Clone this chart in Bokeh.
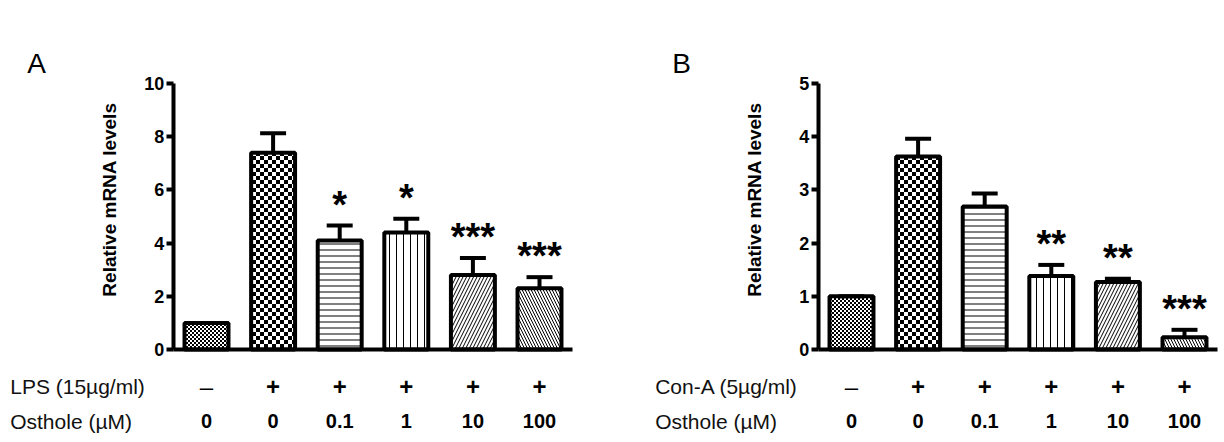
import math

from bokeh.plotting import figure
from bokeh.models import (Range1d, LinearAxis, FixedTicker, CanvasTexture,
                          ColumnDataSource)
from bokeh.layouts import row
from bokeh.core.properties import value
from bokeh.embed import file_html
from bokeh.resources import INLINE

# ---- data -------------------------------------------------------------
osthole_doses = ["0", "0", "0.1", "1", "10", "100"]
stim_flags = ["\u2013", "+", "+", "+", "+", "+"]

lps_mean = [1.0, 7.4, 4.1, 4.4, 2.8, 2.3]
lps_sem = [0.0, 0.73, 0.56, 0.52, 0.64, 0.42]
lps_marks = ["", "", "*", "*", "***", "***"]

cona_mean = [1.0, 3.63, 2.69, 1.38, 1.27, 0.23]
cona_sem = [0.0, 0.33, 0.24, 0.21, 0.06, 0.14]
cona_marks = ["", "", "", "**", "**", "***"]

lps_ticks = [0, 2, 4, 6, 8, 10]
cona_ticks = [0, 1, 2, 3, 4, 5]

# ---- styling ----------------------------------------------------------
FONT = "Liberation Sans"
BAR_PATTERNS = ["fine_checker", "checker", "horizontal_line", "vertical_line",
                "right_diagonal_line", "left_diagonal_line"]
BAR_HATCH_SCALE = [4, 8, 6, 7, 7, 6]
FLAG_STYLE = ["normal" if f == "\u2013" else "bold" for f in stim_flags]


def checker_js(cell):
    # tile of 2x2 cells, two of them black
    return f"""
const c = {cell};
ctx.canvas.width = 2 * c;
ctx.canvas.height = 2 * c;
ctx.fillStyle = "#000000";
ctx.fillRect(0, 0, c, c);
ctx.fillRect(c, c, c, c);
"""


HATCH_EXTRA = {
    "fine_checker": CanvasTexture(code=checker_js(2), repetition="repeat"),
    "checker": CanvasTexture(code=checker_js(4), repetition="repeat"),
}

W, H = 612, 442
STEP = 66.6          # pixels between neighbouring bars
ZERO_PY = 349        # pixel row of y = 0
TOP_PY = 83          # pixel row of the top tick
AXIS_X = -0.5        # y axis sits half a bar step left of the first bar


def make_panel(letter, stim_label, means, sems, marks, ticks, first_px):
    ymax = ticks[-1]
    sy = (ZERO_PY - TOP_PY) / ymax
    p = figure(width=W, height=H, output_backend="svg", toolbar_location=None,
               x_axis_type=None, y_axis_type=None, min_border=0,
               outline_line_color=None, background_fill_color="white",
               x_range=Range1d(-first_px / STEP, (W - first_px) / STEP),
               y_range=Range1d(-(H - ZERO_PY) / sy, ZERO_PY / sy))
    p.xgrid.visible = False
    p.ygrid.visible = False

    n = len(means)
    xs = list(range(n))
    tops = [m + s for m, s in zip(means, sems)]
    src = ColumnDataSource(dict(
        x=xs, mean=means, top=tops, marks=marks,
        left=[x - 0.195 for x in xs], right=[x + 0.195 for x in xs],
        pattern=BAR_PATTERNS, scale=BAR_HATCH_SCALE,
        dose=osthole_doses, flag=stim_flags, flag_style=FLAG_STYLE,
    ))

    # bars with hatch fills
    p.vbar(x="x", top="mean", bottom=0, width=0.66, source=src,
           fill_color="white", line_color="black", line_width=4,
           hatch_pattern="pattern", hatch_scale="scale", hatch_weight=1,
           hatch_color="black", hatch_extra=HATCH_EXTRA)

    # upper error bars (stem + cap)
    p.segment(x0="x", y0="mean", x1="x", y1="top", source=src,
              line_color="black", line_width=4)
    p.segment(x0="left", y0="top", x1="right", y1="top", source=src,
              line_color="black", line_width=4)

    # significance marks
    p.text(x="x", y="top", text="marks", source=src, y_offset=-21,
           text_align="center", text_baseline="middle",
           text_font=value(FONT), text_font_style="bold",
           text_font_size="38px", text_color="black")

    # y axis
    yax = LinearAxis(fixed_location=AXIS_X, bounds=(0, ymax),
                     ticker=FixedTicker(ticks=ticks, minor_ticks=[]))
    yax.axis_line_width = 4
    yax.axis_line_color = "black"
    yax.major_tick_line_width = 4
    yax.major_tick_line_color = "black"
    yax.major_tick_out = 7
    yax.major_tick_in = 0
    yax.minor_tick_out = 0
    yax.minor_tick_in = 0
    yax.major_label_standoff = 2
    yax.major_label_text_font = FONT
    yax.major_label_text_font_style = "bold"
    yax.major_label_text_font_size = "18px"
    yax.major_label_text_color = "black"
    p.add_layout(yax, "left")

    p.text(x=[AXIS_X], y=[ymax / 2], text=["Relative mRNA levels"],
           angle=math.pi / 2, x_offset=-64, y_offset=-17,
           text_align="center", text_baseline="middle",
           text_font=value(FONT), text_font_style="bold",
           text_font_size="19px", text_color="black")

    # baseline (x axis line only)
    xax = LinearAxis(fixed_location=0, bounds=(AXIS_X, n - 0.5),
                     ticker=FixedTicker(ticks=[], minor_ticks=[]))
    xax.axis_line_width = 4
    xax.axis_line_color = "black"
    xax.major_tick_out = 0
    xax.major_tick_in = 0
    xax.minor_tick_out = 0
    xax.minor_tick_in = 0
    xax.major_label_text_font_size = "0px"
    p.add_layout(xax, "below")

    # treatment table under the bars
    p.text(x="x", y=0, text="flag", source=src, y_offset=37,
           text_align="center", text_baseline="middle",
           text_font=value(FONT), text_font_style="flag_style",
           text_font_size="24px", text_color="black")
    p.text(x="x", y=0, text="dose", source=src, y_offset=71,
           text_align="center", text_baseline="middle",
           text_font=value(FONT), text_font_style="bold",
           text_font_size="20px", text_color="black")
    p.text(x=[AXIS_X, AXIS_X], y=[0, 0], text=[stim_label, "Osthole (\u00b5M)"],
           x_offset=-163, y_offset=[37, 72], text_align="left",
           text_baseline="middle", text_font=value(FONT),
           text_font_size="21px", text_color="#111111")

    # panel letter
    p.text(x=[AXIS_X], y=[ymax], text=[letter], x_offset=-146, y_offset=-20,
           text_align="left", text_baseline="middle",
           text_font=value(FONT), text_font_size="28px", text_color="black")
    return p


pa = make_panel("A", "LPS (15\u00b5g/ml)", lps_mean, lps_sem, lps_marks,
                lps_ticks, 206)
pb = make_panel("B", "Con-A (5\u00b5g/ml)", cona_mean, cona_sem, cona_marks,
                cona_ticks, 239)

layout = row(pa, pb, spacing=0)
open("out.html", "w").write(file_html(layout, INLINE))
